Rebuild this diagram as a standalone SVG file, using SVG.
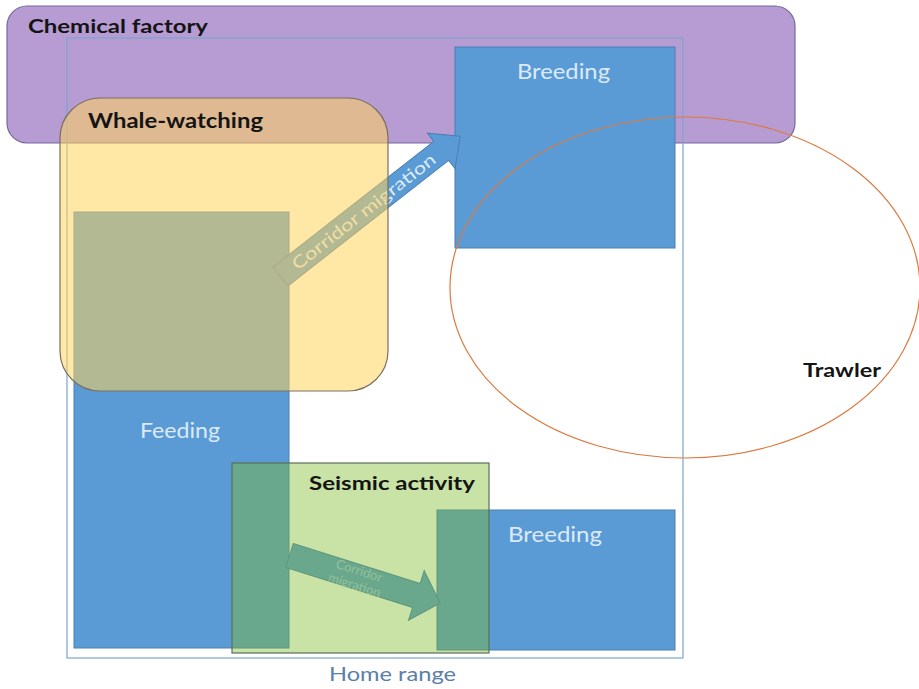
<svg xmlns="http://www.w3.org/2000/svg" width="919" height="689" viewBox="0 0 919 689">
<style>
.lbl{font-family:Lato,"Open Sans","Liberation Sans",sans-serif;}
.b{font-weight:bold;fill:#141414;}
.w{fill:#dceaf7;}
.blue{fill:#5b9bd5;stroke:#4a7fb5;stroke-width:1;}
</style>
<rect width="919" height="689" fill="#ffffff"/>
<g id="chemical-factory">
<rect x="7" y="6" width="788" height="137" rx="20" ry="20" fill="#b79bd3" stroke="#75699c" stroke-width="1.2"/>
</g>
<g id="home-range">
<rect x="67" y="38" width="616" height="620" fill="none" stroke="#7ea6c8" stroke-width="1.2"/>
</g>
<g id="feeding">
<rect class="blue" x="74" y="212" width="215" height="436"/>
</g>
<g id="breeding-top">
<rect class="blue" x="455" y="47" width="220" height="201"/>
</g>
<g id="breeding-bottom">
<rect class="blue" x="437" y="510" width="238" height="140"/>
</g>
<g id="connectors">
<g transform="translate(280.5,276.5) rotate(-38)">
<polygon class="blue" points="0,-12 204,-12 204,-22.5 228,0 204,22.5 204,12 0,12"/>
<text class="lbl w" x="105.5" y="6" font-size="17" text-anchor="middle" textLength="177" lengthAdjust="spacingAndGlyphs">Corridor migration</text>
</g>
<g transform="translate(289.5,555.5) rotate(17.5)">
<polygon class="blue" points="0,-12.5 133,-12.5 133,-26 158,0 133,26 133,12.5 0,12.5"/>
<text class="lbl" fill="#dceaf7" fill-opacity="0.55" font-size="13" text-anchor="middle"><tspan x="71" y="-2">Corridor</tspan><tspan x="71" y="13">migration</tspan></text>
</g>
</g>
<g id="whale-watching">
<rect x="60" y="98" width="328" height="293" rx="40" ry="40" fill="#ffd25b" fill-opacity="0.54" stroke="#7a7060" stroke-width="1.2"/>
</g>
<g id="seismic-activity">
<rect x="232" y="463" width="257" height="190" fill="#7eba2b" fill-opacity="0.42" stroke="#5a6f5c" stroke-width="1.2"/>
</g>
<g id="trawler">
<ellipse cx="685" cy="287.5" rx="235" ry="170.5" fill="none" stroke="#dc7a3e" stroke-width="1.2"/>
</g>
<g id="labels">
<text class="lbl b" x="28" y="33" font-size="19" textLength="180" lengthAdjust="spacingAndGlyphs">Chemical factory</text>
<text class="lbl b" x="88" y="128" font-size="20" textLength="175" lengthAdjust="spacingAndGlyphs">Whale-watching</text>
<text class="lbl w" x="517" y="79" font-size="22" textLength="93" lengthAdjust="spacingAndGlyphs">Breeding</text>
<text class="lbl w" x="140" y="438" font-size="21" textLength="80" lengthAdjust="spacingAndGlyphs">Feeding</text>
<text class="lbl w" x="508" y="542" font-size="22" textLength="94" lengthAdjust="spacingAndGlyphs">Breeding</text>
<text class="lbl b" x="309" y="490" font-size="19" textLength="166" lengthAdjust="spacingAndGlyphs">Seismic activity</text>
<text class="lbl b" x="803" y="377" font-size="19" textLength="78" lengthAdjust="spacingAndGlyphs">Trawler</text>
<text class="lbl" x="329" y="681" font-size="19" fill="#5a80a8" textLength="127" lengthAdjust="spacingAndGlyphs">Home range</text>
</g>
</svg>
